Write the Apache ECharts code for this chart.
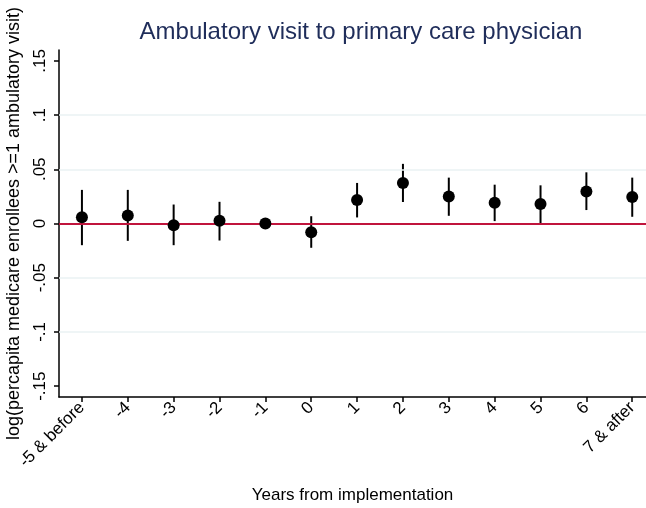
<!DOCTYPE html>
<html>
<head>
<meta charset="utf-8">
<script src="https://cdn.jsdelivr.net/npm/echarts@6/dist/echarts.min.js"></script>
<style>
  html, body { margin: 0; padding: 0; background: #fff; }
  #main { width: 646px; height: 508px; }
</style>
</head>
<body>
<div id="main"></div>
<script>
// event-study estimates
var categories = ['-5 & before', '-4', '-3', '-2', '-1', '0', '1', '2', '3', '4', '5', '6', '7 & after'];
var estimate = [0.0058, 0.0074, -0.0016, 0.0025, 0, -0.008, 0.0217, 0.0374, 0.025, 0.0192, 0.018, 0.0296, 0.0244];
var ciLow = [-0.020, -0.016, -0.020, -0.0157, 0, -0.0224, 0.0056, 0.0198, 0.0071, 0.0022, 0.0003, 0.0124, 0.0062];
var ciHigh = [0.031, 0.031, 0.0175, 0.020, 0, 0.0067, 0.0374, 0.055, 0.0423, 0.0358, 0.0352, 0.0472, 0.0423];
var yTicks = [-0.15, -0.1, -0.05, 0, 0.05, 0.1, 0.15];
var yTickLabels = ['-.15', '-.1', '-.05', '0', '.05', '.1', '.15'];
var gridValues = [-0.1, -0.05, 0.05, 0.1];

var FONT = '"Liberation Sans", Arial, sans-serif';
var xIdx = categories.map(function (c, i) { return i; });

var chart = echarts.init(document.getElementById('main'));
var option = {
    animation: false,
    textStyle: { fontFamily: FONT },
    title: {
        text: 'Ambulatory visit to primary care physician',
        left: 356,
        textAlign: 'center',
        top: 15,
        textStyle: { fontFamily: FONT, fontSize: 24, fontWeight: 'normal', color: '#1f2d5a' }
    },
    grid: { left: 59, right: 0, top: 50, bottom: 111, outerBoundsMode: 'none', containLabel: false },
    xAxis: {
        type: 'value',
        min: -0.5,
        max: 12.3,
        name: 'Years from implementation',
        nameLocation: 'middle',
        nameGap: 90,
        nameTextStyle: { fontFamily: FONT, fontSize: 17, color: '#000' },
        axisLine: { onZero: false, lineStyle: { color: '#000', width: 1.5 } },
        axisTick: { customValues: xIdx, length: 5, lineStyle: { color: '#000', width: 1.5 } },
        axisLabel: {
            customValues: xIdx,
            rotate: 45,
            margin: 8,
            fontFamily: FONT, fontSize: 17, color: '#000',
            formatter: function (v) { return categories[Math.round(v)]; }
        },
        splitLine: { show: false }
    },
    yAxis: {
        type: 'value',
        min: -0.16,
        max: 0.16,
        name: 'log(percapita medicare enrollees >=1 ambulatory visit)',
        nameLocation: 'middle',
        nameGap: 36,
        nameTextStyle: { fontFamily: FONT, fontSize: 18, color: '#000' },
        axisLine: { show: true, onZero: false, lineStyle: { color: '#000', width: 1.5 } },
        axisTick: { show: true, customValues: yTicks, length: 5, lineStyle: { color: '#000', width: 1.5 } },
        axisLabel: {
            customValues: yTicks,
            rotate: 90,
            margin: 10,
            fontFamily: FONT, fontSize: 17, color: '#000',
            formatter: function (v) {
                var i = yTicks.findIndex(function (t) { return Math.abs(t - v) < 1e-9; });
                return i >= 0 ? yTickLabels[i] : '';
            }
        },
        splitLine: { show: false }
    },
    series: [
        {
            type: 'line',
            data: [],
            silent: true,
            markLine: {
                silent: true,
                symbol: 'none',
                label: { show: false },
                lineStyle: { color: '#eaf2f3', width: 1.5, type: 'solid' },
                data: gridValues.map(function (v) { return { yAxis: v }; })
            }
        },
        {
            type: 'line',
            data: [],
            silent: true,
            z: 3,
            markLine: {
                silent: true,
                symbol: 'none',
                label: { show: false },
                lineStyle: { color: '#c0143c', width: 2, type: 'solid' },
                data: [{ yAxis: 0 }]
            }
        },
        {
            type: 'custom',
            z: 4,
            data: xIdx.map(function (i) { return [i, ciLow[i], ciHigh[i]]; }),
            renderItem: function (params, api) {
                var lo = api.coord([api.value(0), api.value(1)]);
                var hi = api.coord([api.value(0), api.value(2)]);
                return {
                    type: 'line',
                    shape: { x1: lo[0], y1: lo[1], x2: hi[0], y2: hi[1] },
                    style: { stroke: '#000', lineWidth: 2 }
                };
            }
        },
        {
            type: 'scatter',
            z: 5,
            symbol: 'circle',
            symbolSize: 12,
            itemStyle: { color: '#000', opacity: 1 },
            data: xIdx.map(function (i) { return [i, estimate[i]]; })
        }
    ]
};
chart.setOption(option);
</script>
</body>
</html>
